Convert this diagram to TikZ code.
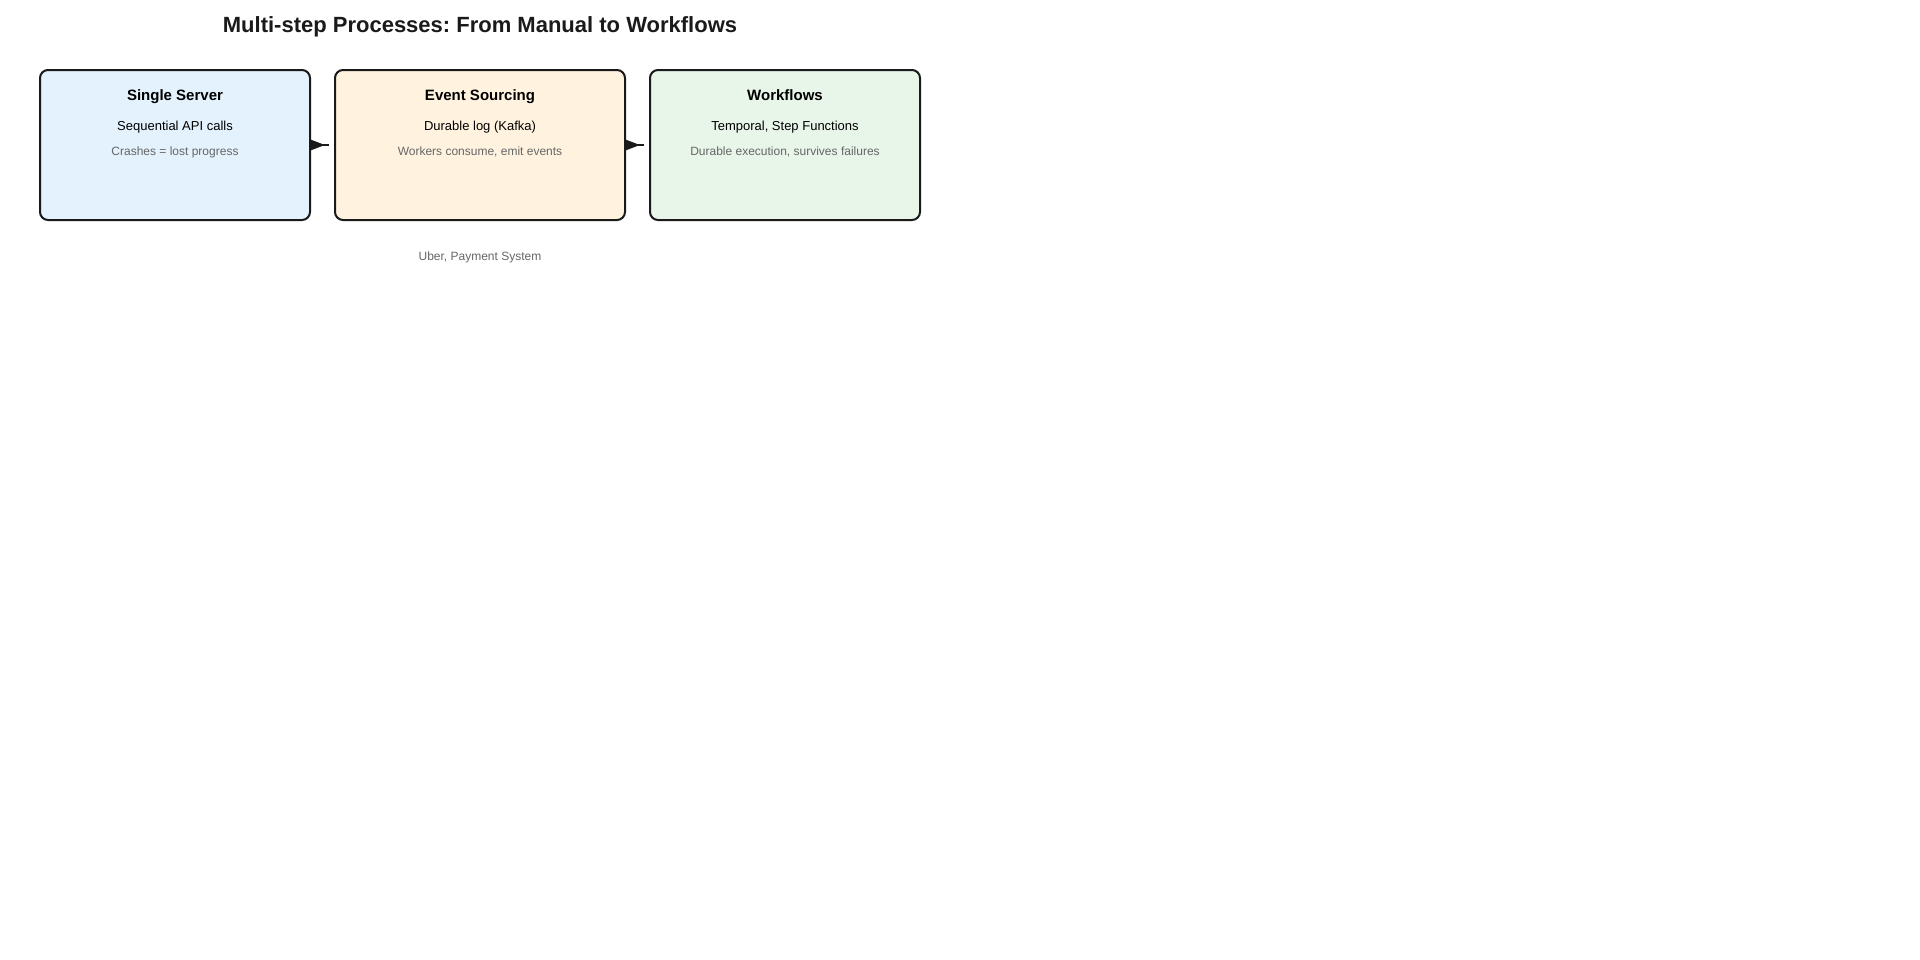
\documentclass[tikz,border=0pt]{standalone}
\usepackage{fontspec}
\setmainfont{Liberation Sans}
\usetikzlibrary{arrows.meta,calc}
\definecolor{ink}{HTML}{1A1A1A}
\definecolor{subgray}{HTML}{666666}
\definecolor{fillA}{HTML}{E3F2FD}
\definecolor{fillB}{HTML}{FFF3E0}
\definecolor{fillC}{HTML}{E8F5E9}
\begin{document}
\frenchspacing
\begin{tikzpicture}[x=0.75pt,y=-0.75pt,
  box/.style={draw=ink,line width=1.5pt,rounded corners=6pt,minimum height=112.5pt,inner sep=0pt},
  titletext/.style={anchor=base,inner sep=0pt,text=ink,font=\fontsize{16.5}{19}\selectfont\bfseries},
  headtext/.style={anchor=base,inner sep=0pt,text=black,font=\fontsize{11.25}{13}\selectfont\bfseries},
  maintext/.style={anchor=base,inner sep=0pt,text=black,font=\fontsize{9.75}{12}\selectfont},
  notetext/.style={anchor=base,inner sep=0pt,text=subgray,font=\fontsize{9}{11}\selectfont},
  conn/.style={draw=ink,line width=1.5pt,{Triangle[reversed,length=10.5pt,width=7.5pt]}-}
]
\useasboundingbox[fill=white] (0,0) rectangle (1920,960);

\node[titletext] (title) at (480,32) {Multi-step Processes: From Manual to Workflows};

\node[box,fill=fillA,minimum width=202.5pt] (b1) at (175,145) {};
\node[box,fill=fillB,minimum width=217.5pt] (b2) at (480,145) {};
\node[box,fill=fillC,minimum width=202.5pt] (b3) at (785,145) {};

\node[headtext] (h1) at (175,100) {Single Server};
\node[maintext] (m1) at (175,130) {Sequential API calls};
\node[notetext] (n1) at (175,155.5) {Crashes = lost progress};

\node[headtext] (h2) at (480,100) {Event Sourcing};
\node[maintext] (m2) at (480,130) {Durable log (Kafka)};
\node[notetext] (n2) at (480,155.5) {Workers consume, emit events};

\node[headtext] (h3) at (785,100) {Workflows};
\node[maintext] (m3) at (785,130) {Temporal, Step Functions};
\node[notetext] (n3) at (785,155.5) {Durable execution, survives failures};

\node[notetext] (foot) at (480,260.5) {Uber, Payment System};

\draw[conn] (b1.east) -- ($(b2.west)+(-5,0)$);
\draw[conn] (b2.east) -- ($(b3.west)+(-5,0)$);
\end{tikzpicture}
\end{document}
